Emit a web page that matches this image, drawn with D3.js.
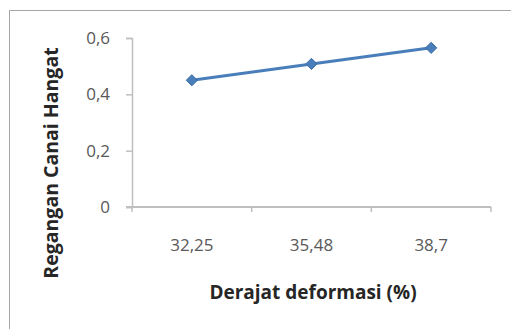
<!DOCTYPE html>
<html><head><meta charset="utf-8">
<script src="https://cdn.jsdelivr.net/npm/d3@7"></script>
<style>html,body{margin:0;padding:0;background:#fff;overflow:hidden}</style>
</head><body>
<svg id="c" width="511" height="329"></svg>
<script>
const categories = ["32,25", "35,48", "38,7"];
const values = [0.45, 0.508, 0.565];
const yTicks = [0, 0.2, 0.4, 0.6];
const yTickLabels = ["0", "0,2", "0,4", "0,6"];
const xTitle = "Derajat deformasi (%)";
const yTitle = "Regangan Canai Hangat";

(function () {
const svg = d3.select("#c");
const font = "'Open Sans', 'Liberation Sans', sans-serif";

svg.append("rect").attr("x", 9.5).attr("y", 10.5).attr("width", 520).attr("height", 340)
  .attr("fill", "#fff").attr("stroke", "#a6a6a6").attr("stroke-width", 1);

const pl = 132, pr = 491, pt = 38, pb = 207;
const x = d3.scaleBand().domain(categories).range([pl, pr]).padding(0);
const y = d3.scaleLinear().domain([0, 0.6]).range([pb, pt]);

const axisColor = "#bfbfbf";
const yAxis = svg.append("g").attr("transform", `translate(${pl},0)`)
  .call(d3.axisLeft(y).tickValues(yTicks).tickFormat((d, i) => yTickLabels[i]).tickSize(6).tickPadding(16));
yAxis.select(".domain").attr("stroke", axisColor).attr("stroke-width", 1.5);
yAxis.selectAll(".tick line").attr("stroke", axisColor).attr("stroke-width", 1.5);
yAxis.selectAll("text").attr("fill", "#595959").style("font-family", font).style("font-size", "17px");

const xAxis = svg.append("g").attr("transform", `translate(0,${pb})`)
  .call(d3.axisBottom(x).tickSize(0).tickPadding(0));
xAxis.select(".domain").remove();
xAxis.selectAll(".tick line").remove();
xAxis.selectAll("text").attr("dy", null).attr("y", 44).attr("fill", "#595959")
  .style("font-family", font).style("font-size", "17px");
svg.append("line").attr("x1", pl - 6).attr("x2", pr).attr("y1", pb).attr("y2", pb)
  .attr("stroke", axisColor).attr("stroke-width", 2);
const bounds = [...categories.map(c => x(c)), pr];
svg.selectAll(".xt").data(bounds).enter().append("line")
  .attr("x1", d => d).attr("x2", d => d).attr("y1", pb).attr("y2", pb + 5)
  .attr("stroke", axisColor).attr("stroke-width", 1.5);

const cx = (d, i) => x(categories[i]) + x.bandwidth() / 2;
svg.append("path").datum(values)
  .attr("d", d3.line().x(cx).y(d => y(d)))
  .attr("fill", "none").attr("stroke", "#4a7ebb").attr("stroke-width", 3);
svg.selectAll(".m").data(values).enter().append("path")
  .attr("d", d3.symbol().type(d3.symbolDiamond2).size(80))
  .attr("transform", (d, i) => `translate(${cx(d, i)},${y(d)})`)
  .attr("fill", "#4a7ebb").attr("stroke", "#3d6ea8").attr("stroke-width", 1);

svg.append("text").attr("x", 313).attr("y", 299).attr("text-anchor", "middle")
  .attr("fill", "#262626").style("font-family", font).style("font-size", "19px").style("font-weight", "bold")
  .text(xTitle);
svg.append("text").attr("transform", "translate(58,163) rotate(-90)").attr("text-anchor", "middle")
  .attr("fill", "#262626").style("font-family", font).style("font-size", "19.5px").style("font-weight", "bold")
  .text(yTitle);
})();
</script>
</body></html>
